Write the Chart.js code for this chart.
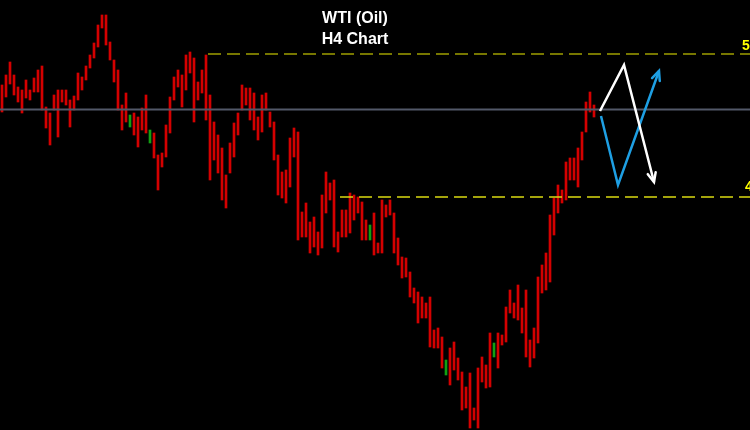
<!DOCTYPE html>
<html>
<head>
<meta charset="utf-8">
<title>WTI (Oil) H4 Chart</title>
<script src="https://cdn.jsdelivr.net/npm/chart.js@4.4.1/dist/chart.umd.min.js"></script>
<style>
    body { margin: 0; background: #000; }
    .chart-wrapper { width: 750px; height: 430px; position: relative; }
</style>
</head>
<body>
<div class="chart-wrapper"><canvas id="myChart"></canvas></div>
<script>
// H4 bars (high / low), one per 4 hours
const barHigh = [
    50.45, 50.95, 51.60, 50.95, 50.35, 50.20, 50.70, 50.20, 50.80, 51.20,
    51.40, 49.35, 49.05, 49.95, 50.20, 50.20, 50.20, 49.70, 49.90, 51.05,
    50.85, 51.40, 51.95, 52.55, 53.45, 53.95, 53.95, 52.60, 51.70, 51.20,
    49.45, 50.05, 48.95, 49.05, 48.85, 49.30, 49.95, 48.20, 48.05, 46.95,
    47.05, 48.45, 49.85, 50.85, 51.20, 50.95, 51.95, 52.10, 51.80, 50.60,
    51.20, 51.95, 49.95, 48.60, 47.95, 47.30, 45.95, 47.55, 48.55, 49.05,
    50.45, 50.30, 50.30, 50.05, 48.85, 49.95, 50.05, 49.10, 48.60, 46.95,
    46.10, 46.20, 47.80, 48.30, 48.10, 44.10, 44.55, 43.60, 43.85, 43.10,
    44.95, 46.10, 45.55, 45.70, 43.10, 44.20, 44.20, 45.05, 44.95, 44.85,
    44.60, 43.70, 43.45, 44.05, 42.55, 44.70, 44.45, 44.70, 44.05, 42.80,
    41.85, 41.80, 41.10, 40.30, 40.10, 39.85, 39.55, 39.85, 38.20, 38.30,
    37.85, 36.70, 37.30, 37.60, 36.80, 36.10, 35.35, 36.05, 34.30, 36.30,
    36.85, 36.45, 38.05, 37.55, 38.05, 37.95, 39.35, 40.20, 39.55, 40.45,
    39.30, 40.20, 37.70, 38.30, 40.85, 41.45, 42.05, 43.95, 44.80, 45.45,
    45.20, 46.60, 46.80, 46.80, 47.30, 48.10, 49.60, 50.10, 49.45
];
const barLow = [
    49.10, 49.85, 50.50, 49.95, 49.60, 49.05, 49.80, 49.70, 50.10, 50.10,
    49.20, 48.30, 47.45, 49.20, 47.85, 49.60, 49.45, 48.35, 49.20, 49.70,
    50.20, 50.70, 51.30, 51.80, 52.35, 53.30, 52.45, 51.70, 50.60, 49.20,
    48.20, 48.60, 48.35, 47.95, 47.35, 48.20, 48.05, 47.55, 46.80, 45.20,
    46.35, 46.85, 48.05, 49.70, 50.35, 49.35, 50.20, 51.05, 48.60, 49.70,
    50.05, 48.70, 45.70, 46.70, 46.05, 44.70, 44.30, 46.05, 46.85, 47.95,
    49.20, 49.45, 48.70, 48.20, 47.70, 48.10, 49.20, 48.35, 46.70, 44.95,
    44.80, 44.55, 45.35, 46.85, 42.70, 42.85, 42.85, 42.05, 42.35, 41.95,
    42.30, 44.05, 44.70, 42.35, 42.10, 42.85, 42.85, 43.05, 43.70, 44.05,
    42.70, 42.70, 42.70, 41.95, 42.05, 42.05, 43.85, 43.95, 42.05, 41.45,
    40.80, 40.85, 39.85, 39.55, 38.55, 38.80, 38.80, 37.35, 37.30, 37.30,
    36.30, 35.95, 35.45, 36.20, 35.70, 34.20, 34.30, 33.30, 33.70, 33.30,
    35.60, 35.30, 35.35, 36.85, 36.30, 37.45, 37.60, 39.05, 38.80, 38.70,
    38.05, 36.85, 36.35, 36.80, 37.55, 40.05, 40.20, 40.60, 42.95, 44.05,
    44.55, 44.70, 45.70, 45.70, 45.35, 46.70, 48.10, 49.10, 48.85
];
const greenBars = [32, 37, 92, 111, 123];

// levels
const midLine = 49.22;
const upperLevel = 52.00;
const upperStart = 51.5;
const lowerLevel = 44.85;
const lowerStart = 84.5;

// projected paths
const whiteX = [149.5, 155.5, 163];
const whiteY = [49.15, 51.45, 45.6];
const blueX = [149.75, 154, 164.25];
const blueY = [48.9, 45.45, 51.15];

const xMin = -0.5;
const xMax = 187;
const yMin = 33.2;
const yMax = 54.7;

const bars = barHigh.map((h, i) => ({x: i, y: [barLow[i], h]}));
const barColors = barHigh.map((h, i) => greenBars.includes(i) ? '#12a012' : '#d40000');

function hline(value, from) {
    return [{x: from, y: value}, {x: xMax, y: value}];
}
function path(xs, ys) {
    return xs.map((x, i) => ({x: x, y: ys[i]}));
}

const overlay = {
    id: 'overlay',
    afterDatasetsDraw(chart) {
        const ctx = chart.ctx;
        chart.data.datasets.forEach((ds, i) => {
            if (!ds.arrow) return;
            const pts = chart.getDatasetMeta(i).data;
            const a = pts[pts.length - 2], b = pts[pts.length - 1];
            const ang = Math.atan2(b.y - a.y, b.x - a.x);
            const len = 10, spread = 0.42;
            ctx.save();
            ctx.strokeStyle = ds.borderColor;
            ctx.lineWidth = 2.5;
            ctx.lineCap = 'round';
            ctx.beginPath();
            ctx.moveTo(b.x - len * Math.cos(ang - spread), b.y - len * Math.sin(ang - spread));
            ctx.lineTo(b.x, b.y);
            ctx.lineTo(b.x - len * Math.cos(ang + spread), b.y - len * Math.sin(ang + spread));
            ctx.stroke();
            ctx.restore();
        });
    },
    afterDraw(chart) {
        const ctx = chart.ctx;
        const y = chart.scales.y;
        ctx.save();
        ctx.fillStyle = '#ffffff';
        ctx.textAlign = 'center';
        ctx.font = 'bold 16px "Liberation Sans", Arial, sans-serif';
        ctx.fillText('WTI (Oil)', 355, 23);
        ctx.fillText('H4 Chart', 355, 44);
        ctx.fillStyle = '#ffff00';
        ctx.textAlign = 'left';
        ctx.font = 'bold 14px "Liberation Sans", Arial, sans-serif';
        ctx.fillText(upperLevel.toFixed(2), 742, y.getPixelForValue(upperLevel) - 4);
        ctx.fillText(lowerLevel.toFixed(2), 745, y.getPixelForValue(lowerLevel) - 6);
        ctx.restore();
    }
};

const ctx = document.getElementById('myChart').getContext('2d');
new Chart(ctx, {
    data: {
        datasets: [
            {
                type: 'bar',
                data: bars,
                backgroundColor: barColors,
                barThickness: 2,
                order: 5
            },
            {
                type: 'line',
                data: hline(midLine, xMin),
                borderColor: '#525869',
                borderWidth: 2,
                pointRadius: 0,
                order: 3
            },
            {
                type: 'line',
                data: hline(upperLevel, upperStart),
                borderColor: '#9e9e00',
                borderWidth: 1.5,
                borderDash: [13, 6],
                pointRadius: 0,
                order: 3
            },
            {
                type: 'line',
                data: hline(lowerLevel, lowerStart),
                borderColor: '#dada10',
                borderWidth: 1.5,
                borderDash: [13, 6],
                pointRadius: 0,
                order: 3
            },
            {
                type: 'line',
                data: path(whiteX, whiteY),
                borderColor: '#ffffff',
                borderWidth: 2.5,
                borderJoinStyle: 'miter',
                pointRadius: 0,
                arrow: true,
                order: 1
            },
            {
                type: 'line',
                data: path(blueX, blueY),
                borderColor: '#1e9fe3',
                borderWidth: 2.5,
                borderJoinStyle: 'miter',
                pointRadius: 0,
                arrow: true,
                order: 1
            }
        ]
    },
    options: {
        responsive: true,
        maintainAspectRatio: false,
        animation: false,
        layout: { padding: 0 },
        plugins: {
            legend: { display: false },
            tooltip: { enabled: false }
        },
        scales: {
            x: { type: 'linear', min: xMin, max: xMax, offset: false, display: false },
            y: { min: yMin, max: yMax, display: false }
        }
    },
    plugins: [overlay]
});
</script>
</body>
</html>
